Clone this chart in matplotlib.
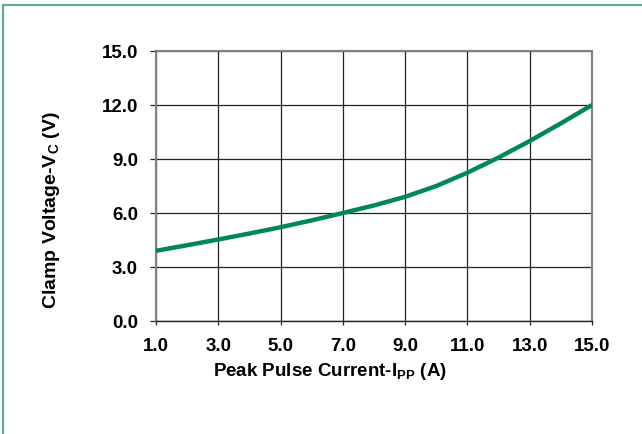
import matplotlib
matplotlib.use("Agg")
import matplotlib.pyplot as plt
from matplotlib.patches import Rectangle

current = [1, 2, 3, 4, 5, 6, 7, 8, 9, 10, 11, 12, 13, 14, 15]
voltage = [3.9, 4.21, 4.53, 4.86, 5.21, 5.59, 6.0, 6.42, 6.90, 7.50, 8.24, 9.08, 10.0, 10.98, 12.0]
xticks = [1, 3, 5, 7, 9, 11, 13, 15]
yticks = [0, 3, 6, 9, 12, 15]

plt.rcParams['font.family'] = ['Liberation Sans', 'DejaVu Sans']
plt.rcParams['font.weight'] = 'bold'
plt.rcParams['mathtext.fontset'] = 'custom'
plt.rcParams['mathtext.rm'] = 'Liberation Sans:bold'
plt.rcParams['mathtext.bf'] = 'Liberation Sans:bold'

fig = plt.figure(figsize=(6.42, 4.34), dpi=100)
fig.patches.append(Rectangle((3/642, -0.1), 1.2, (434-5)/434 + 0.1, transform=fig.transFigure,
                             fill=False, edgecolor='#5aaf8a', linewidth=1.6, zorder=0))
ax = fig.add_axes([156/642, 113/434, 436/642, 270/434])

ax.plot(current, voltage, color='#00875a', linewidth=3.2, solid_capstyle='butt',
        solid_joinstyle='round', zorder=3)
ax.set_xlim(1, 15)
ax.set_ylim(0, 15)
ax.set_xticks(xticks)
ax.set_xticklabels([f"{v:.1f}" for v in xticks])
ax.set_yticks(yticks)
ax.set_yticklabels([f"{v:.1f}" for v in yticks])
ax.grid(True, color='#222222', linewidth=0.9)
ax.set_axisbelow(True)

for side in ['left', 'top', 'right']:
    ax.spines[side].set_color('#808080')
    ax.spines[side].set_linewidth(1.5)
ax.spines['bottom'].set_color('#222222')
ax.spines['bottom'].set_linewidth(1.0)

ax.tick_params(axis='y', length=4, width=0.9, color='#222222', pad=9, labelsize=13.5)
ax.tick_params(axis='x', length=3, width=0.9, color='#222222', pad=9, labelsize=13.5)
for lab in ax.get_xticklabels() + ax.get_yticklabels():
    lab.set_fontweight('bold')

ax.set_xlabel(r"Peak Pulse Current-I$_\mathrm{PP}$ (A)", fontsize=13.5, fontweight='bold')
ax.xaxis.set_label_coords(0.399, -0.15)
ax.set_ylabel(r"Clamp Voltage-V$_\mathrm{C}$ (V)", fontsize=14, fontweight='bold')
ax.yaxis.set_label_coords(-0.215, 0.41)

fig.savefig("out.png", dpi=100)
